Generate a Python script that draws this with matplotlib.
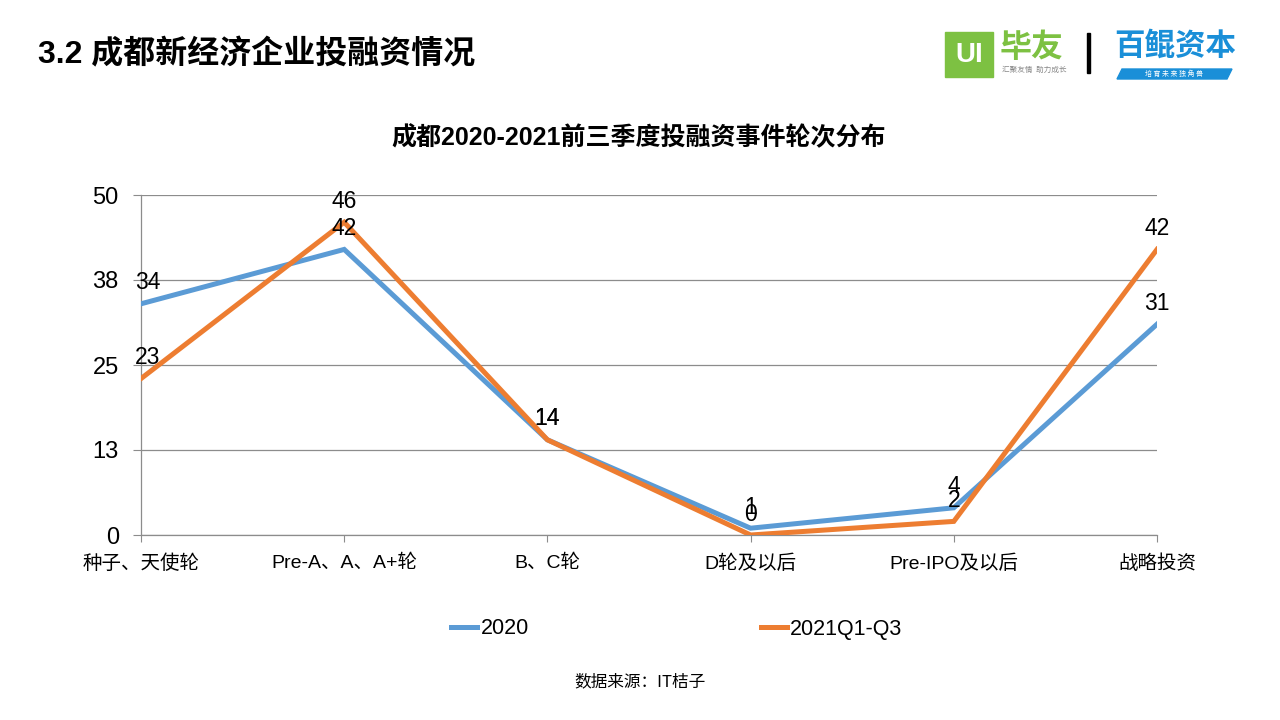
import matplotlib
matplotlib.use("Agg")
import matplotlib.pyplot as plt
from matplotlib.patches import Rectangle, Polygon

FONT = ["Liberation Sans", "Noto Sans CJK SC", "DejaVu Sans"]
CJK = ["Noto Sans CJK SC", "DejaVu Sans"]
plt.rcParams["font.family"] = FONT

# data
categories = ["种子、天使轮", "Pre-A、A、A+轮", "B、C轮", "D轮及以后", "Pre-IPO及以后", "战略投资"]
events_2020 = [34, 42, 14, 1, 4, 31]
events_2021 = [23, 46, 14, 0, 2, 42]
y_ticks = [0, 12.5, 25, 37.5, 50]
y_tick_labels = ["0", "13", "25", "38", "50"]

BLUE = "#5B9BD5"
ORANGE = "#ED7D31"
GRID = "#8C8C8C"

fig = plt.figure(figsize=(12.8, 7.2), dpi=100)
ax = fig.add_axes([141 / 1280, 1 - 535 / 720, (1157 - 141) / 1280, (535 - 195) / 720])

x = list(range(len(categories)))
ax.plot(x, events_2020, color=BLUE, lw=3.6, label="2020", solid_joinstyle="miter", zorder=3)
ax.plot(x, events_2021, color=ORANGE, lw=3.6, label="2021Q1-Q3", solid_joinstyle="miter", zorder=4)

for xs, ys in [(x, events_2020), (x, events_2021)]:
    for xi, yi in zip(xs, ys):
        dx = 5 if xi == 0 else 0
        ax.annotate(f"{yi}", (xi, yi), xytext=(dx, 15), textcoords="offset points",
                    ha="center", va="center", fontsize=16.5, color="black", zorder=5)

ax.set_xlim(0, len(categories) - 1)
ax.set_ylim(0, 50)
ax.set_yticks(y_ticks)
ax.set_yticklabels(y_tick_labels, fontsize=17)
ax.set_xticks(x)
ax.set_xticklabels(categories, fontsize=14)
ax.yaxis.grid(True, color=GRID, lw=0.9)
ax.set_axisbelow(True)
for s in ["top", "right"]:
    ax.spines[s].set_visible(False)
for s in ["left", "bottom"]:
    ax.spines[s].set_color(GRID)
    ax.spines[s].set_linewidth(0.9)
ax.tick_params(axis="y", length=6, color=GRID, pad=10)
ax.tick_params(axis="x", length=5, color=GRID, pad=9)

fig.legend(loc="center", bbox_to_anchor=(677 / 1280, 1 - 629 / 720), ncol=2, frameon=False,
           fontsize=15.5, handlelength=1.2, handletextpad=0.15, columnspacing=10.8)

# headings
fig.text(38 / 1280, 1 - 55 / 720, "3.2 成都新经济企业投融资情况", fontsize=23, fontweight="bold",
         ha="left", va="center")
fig.text(639 / 1280, 1 - 138 / 720, "成都2020-2021前三季度投融资事件轮次分布", fontsize=18,
         fontweight="bold", ha="center", va="center")
fig.text(640 / 1280, 1 - 682 / 720, "数据来源：IT桔子", fontsize=12, ha="center", va="center",
         family=CJK)

# logo block (top right)
W, H = 1280, 720
fig.patches.append(Rectangle((945 / W, 1 - 77 / H), 48 / W, 45 / H, transform=fig.transFigure,
                             color="#7DC142", zorder=1))
fig.text(969 / W, 1 - 55 / H, "UI", fontsize=20, fontweight="bold", color="white",
         ha="center", va="center")
fig.text(1000 / W, 1 - 48 / H, "毕友", fontsize=23, fontweight="bold", color="#7DC142",
         ha="left", va="center", family=CJK)
fig.text(1002 / W, 1 - 70 / H, "汇聚友情  助力成长", fontsize=5.5, color="#888888",
         ha="left", va="center", family=CJK)
fig.patches.append(Rectangle((1087 / W, 1 - 73 / H), 3 / W, 40 / H, transform=fig.transFigure,
                             color="black", zorder=1))
fig.text(1175 / W, 1 - 46 / H, "百鲲资本", fontsize=22, fontweight="bold", color="#1A8FD8",
         ha="center", va="center", family=CJK)
fig.patches.append(Polygon([(1117 / W, 1 - 79 / H), (1122 / W, 1 - 69 / H),
                            (1232 / W, 1 - 69 / H), (1227 / W, 1 - 79 / H)],
                           closed=True, transform=fig.transFigure, color="#1A8FD8", zorder=1))
fig.text(1174 / W, 1 - 74 / H, "培 育 未 来 独 角 兽", fontsize=5, color="white",
         ha="center", va="center", family=CJK)

fig.savefig("out.png", dpi=100)
